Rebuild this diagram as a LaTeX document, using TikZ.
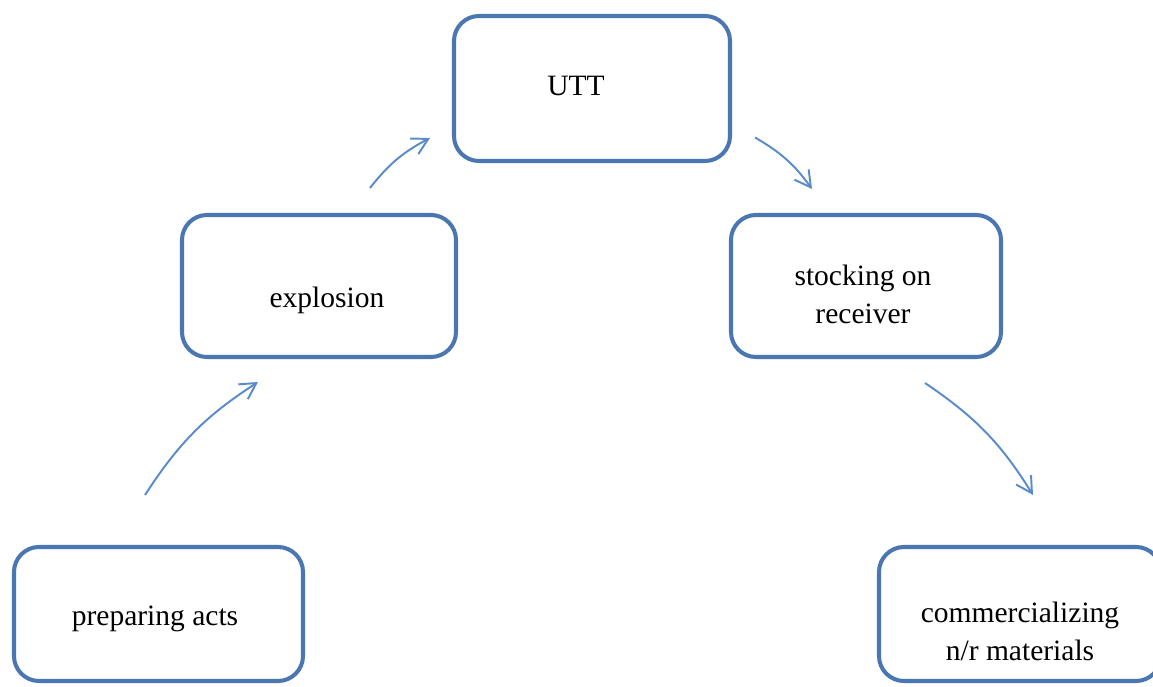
\documentclass[tikz,border=0pt]{standalone}
\usepackage{fontspec}
\setmainfont{Liberation Serif}
\usetikzlibrary{arrows.meta}
\definecolor{boxblue}{RGB}{74,118,178}
\definecolor{arrowblue}{RGB}{88,138,204}
\begin{document}
\begin{tikzpicture}[
  box/.style={draw=boxblue, line width=2.3pt, rounded corners=0.5cm},
  lbl/.style={font=\fontsize{16.8}{21.5}\selectfont, align=center},
  flow/.style={arrowblue, line width=1.1pt, -{Straight Barb[length=9pt,width=10pt]}}
]
  % Frame
  \useasboundingbox (0,0) rectangle (23.06,13.74);

  % Boxes
  \node[box, minimum width=5.52cm, minimum height=2.90cm] (utt) at (11.84,11.97) {};
  \node[box, minimum width=5.48cm, minimum height=2.84cm] (expl) at (6.38,8.02) {};
  \node[box, minimum width=5.40cm, minimum height=2.84cm] (stock) at (17.32,8.02) {};
  \node[box, minimum width=5.78cm, minimum height=2.68cm] (prep) at (3.17,1.46) {};
  \node[box, minimum width=5.64cm, minimum height=2.68cm] (comm) at (20.40,1.46) {};

  % Labels
  \node[lbl, anchor=base] (utt-t) at (11.52,11.82) {UTT};
  \node[lbl, anchor=base] (expl-t) at (6.54,7.58) {explosion};
  \node[lbl] (stock-t) at (17.26,7.85) {stocking on\\receiver};
  \node[lbl, anchor=base] (prep-t) at (3.10,1.22) {preparing acts};
  \node[lbl] (comm-t) at (20.40,1.11) {commercializing\\n/r materials};

  % Arrows
  \draw[flow] ([shift={(-0.27,1.00)}]prep.north) to[bend left=12] ([shift={(-1.22,-0.46)}]expl.south);
  \draw[flow] ([shift={(1.02,0.50)}]expl.north) to[bend left=12] ([shift={(-0.44,-0.99)}]utt.west);
  \draw[flow] ([shift={(0.46,-0.98)}]utt.east) to[bend left=12] ([shift={(-1.08,0.48)}]stock.north);
  \draw[flow] ([shift={(1.18,-0.48)}]stock.south) to[bend left=12] ([shift={(0.26,1.00)}]comm.north);
\end{tikzpicture}
\end{document}
